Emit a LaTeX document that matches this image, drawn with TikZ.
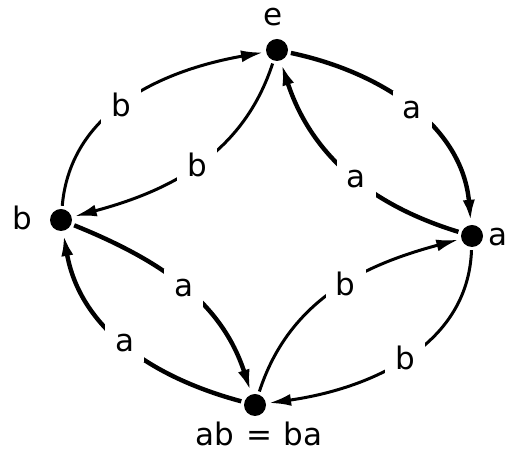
\documentclass[tikz,border=0pt]{standalone}
\usepackage{fontspec}
\setmainfont{DejaVu Sans}
\usetikzlibrary{arrows.meta}
\begin{document}
\begin{tikzpicture}[x=1pt,y=1pt,
  dot/.style={circle,fill=black,inner sep=0pt,minimum size=22pt},
  txt/.style={font=\fontsize{31}{32}\selectfont,inner sep=0pt},
  lbl/.style={font=\fontsize{31}{32}\selectfont,fill=white,inner sep=10pt},
  edge/.style={line width=3pt,shorten >=3pt,shorten <=3pt,-{Latex[length=22pt,width=12pt]}},
  edgea/.style={edge,line width=4.4pt}]
\useasboundingbox (0,0) rectangle (509,454);
\node[dot] (e) at (277,404) {};
\node[dot] (b) at (61,234) {};
\node[dot] (a) at (472,218) {};
\node[dot] (ab) at (255,49) {};
\node[txt] (le) at (273,437) {e};
\node[txt] (lb) at (22,236) {b};
\node[txt,anchor=east] (la) at (508,217) {a};
\node[txt,anchor=base] (lab) at (259,8) {ab\hspace{2pt} = \hspace{2pt}ba};
% outer
\draw[edge] (b) to[out=85,in=190] node[lbl,pos=0.46]{b} (e);
\draw[edgea] (e) to[out=-12,in=95] node[lbl,pos=0.5]{a} (a);
\draw[edge] (a) to[out=-92,in=8] node[lbl,pos=0.5]{b} (ab);
\draw[edgea] (ab) to[out=165,in=-80] node[lbl,pos=0.5]{a} (b);
% inner
\draw[edge] (e) to[out=-108,in=15] node[lbl,pos=0.5]{b} (b);
\draw[edgea] (a) to[out=163,in=-72] node[lbl,pos=0.45]{a} (e);
\draw[edgea] (b) to[out=-22,in=108] node[lbl,pos=0.5]{a} (ab);
\draw[edge] (ab) to[out=72,in=195] node[lbl,pos=0.55]{b} (a);
\end{tikzpicture}
\end{document}
